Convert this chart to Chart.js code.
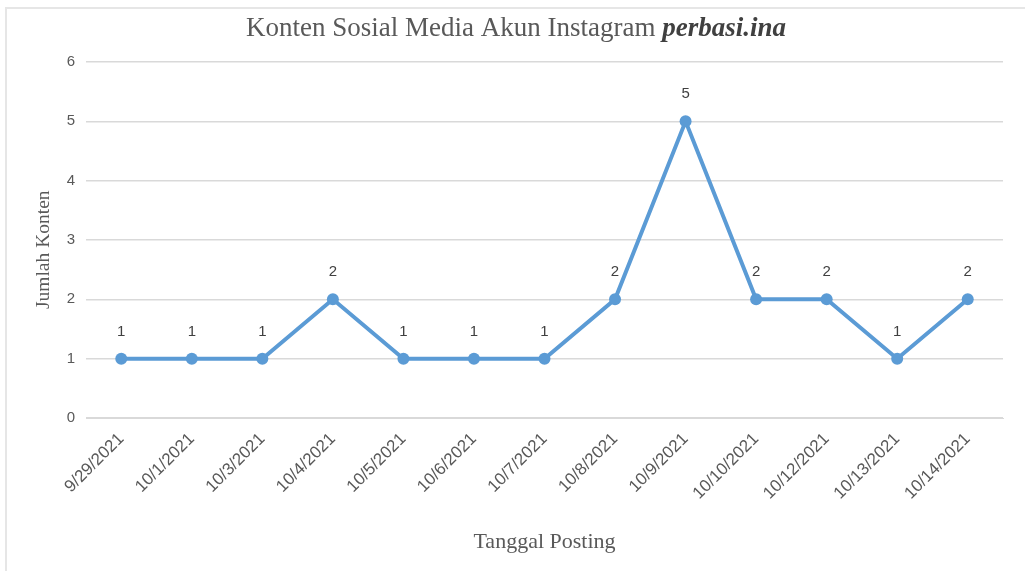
<!DOCTYPE html>
<html>
<head>
<meta charset="utf-8">
<script src="https://cdn.jsdelivr.net/npm/chart.js@4.4.1/dist/chart.umd.min.js"></script>
<style>
  html, body { margin: 0; padding: 0; background: #fff; }
  #wrap { width: 1025px; height: 571px; position: relative; }
</style>
</head>
<body>
<div id="wrap"><canvas id="chart" width="1025" height="571"></canvas></div>
<script>
const tanggal = ["9/29/2021", "10/1/2021", "10/3/2021", "10/4/2021", "10/5/2021", "10/6/2021", "10/7/2021",
  "10/8/2021", "10/9/2021", "10/10/2021", "10/12/2021", "10/13/2021", "10/14/2021"];
const jumlahKonten = [1, 1, 1, 2, 1, 1, 1, 2, 5, 2, 2, 1, 2];
const yTicks = [0, 1, 2, 3, 4, 5, 6];

const titleMain = "Konten Sosial Media Akun Instagram ";
const titleAccount = "perbasi.ina";

// title with a bold italic account name + the faint frame
const frameAndTitle = {
  id: "frameAndTitle",
  beforeDraw(chart) {
    const ctx = chart.ctx;
    ctx.save();
    ctx.strokeStyle = "#e6e6e6";
    ctx.lineWidth = 2;
    ctx.beginPath();
    ctx.moveTo(6, 571);
    ctx.lineTo(6, 8);
    ctx.lineTo(1025, 8);
    ctx.stroke();
    ctx.restore();
  },
  afterDraw(chart) {
    const ctx = chart.ctx;
    ctx.save();
    const f1 = "27px 'Liberation Serif', 'Times New Roman', serif";
    const f2 = "italic bold 27px 'Liberation Serif', 'Times New Roman', serif";
    ctx.font = f1;
    const w1 = ctx.measureText(titleMain).width;
    ctx.font = f2;
    const w2 = ctx.measureText(titleAccount).width;
    const x0 = 516 - (w1 + w2) / 2;
    ctx.fillStyle = "#595959";
    ctx.textBaseline = "alphabetic";
    ctx.textAlign = "left";
    ctx.font = f1;
    ctx.fillText(titleMain, x0, 36);
    ctx.font = f2;
    ctx.fillStyle = "#404040";
    ctx.fillText(titleAccount, x0 + w1, 36);
    ctx.restore();
  }
};

// value labels above the points
const valueLabels = {
  id: "valueLabels",
  afterDatasetsDraw(chart) {
    const ctx = chart.ctx;
    const meta = chart.getDatasetMeta(0);
    ctx.save();
    ctx.font = "15px 'Liberation Sans', Arial, sans-serif";
    ctx.fillStyle = "#404040";
    ctx.textAlign = "center";
    ctx.textBaseline = "middle";
    meta.data.forEach((pt, i) => {
      ctx.fillText(String(jumlahKonten[i]), pt.x, pt.y - 27);
    });
    ctx.restore();
  }
};

new Chart(document.getElementById("chart"), {
  type: "line",
  data: {
    labels: tanggal,
    datasets: [{
      data: jumlahKonten,
      borderColor: "#5B9BD5",
      backgroundColor: "#5B9BD5",
      borderWidth: 4,
      pointRadius: 6,
      pointHoverRadius: 6,
      pointBorderWidth: 0,
      tension: 0,
      fill: false
    }]
  },
  options: {
    responsive: false,
    animation: false,
    layout: { padding: { left: 0, right: 22, top: 62, bottom: 0 } },
    plugins: { legend: { display: false }, tooltip: { enabled: false } },
    scales: {
      x: {
        offset: true,
        grid: { display: false },
        border: { display: true, color: "#d9d9d9" },
        ticks: {
          color: "#595959",
          font: { family: "'Liberation Sans', Arial, sans-serif", size: 17 },
          maxRotation: 45,
          minRotation: 45,
          autoSkip: false,
          padding: 3
        },
        title: {
          display: true,
          text: "Tanggal Posting",
          color: "#595959",
          font: { family: "'Liberation Serif', 'Times New Roman', serif", size: 22 },
          padding: { top: 0, bottom: 16 }
        },
        afterFit(scale) { scale.height = 571 - 418; }
      },
      y: {
        min: 0,
        max: 6,
        afterBuildTicks(scale) { scale.ticks = yTicks.map(v => ({ value: v })); },
        grid: { color: "#d9d9d9", drawTicks: false, lineWidth: 1.5 },
        border: { display: false },
        ticks: {
          color: "#595959",
          font: { family: "'Liberation Sans', Arial, sans-serif", size: 15 },
          padding: 11
        },
        title: {
          display: true,
          text: "Jumlah Konten    ",
          color: "#595959",
          font: { family: "'Liberation Serif', 'Times New Roman', serif", size: 19.5 },
          padding: { top: 32, bottom: 0 }
        },
        afterFit(scale) { scale.width = 86; }
      }
    }
  },
  plugins: [frameAndTitle, valueLabels]
});
</script>
</body>
</html>
